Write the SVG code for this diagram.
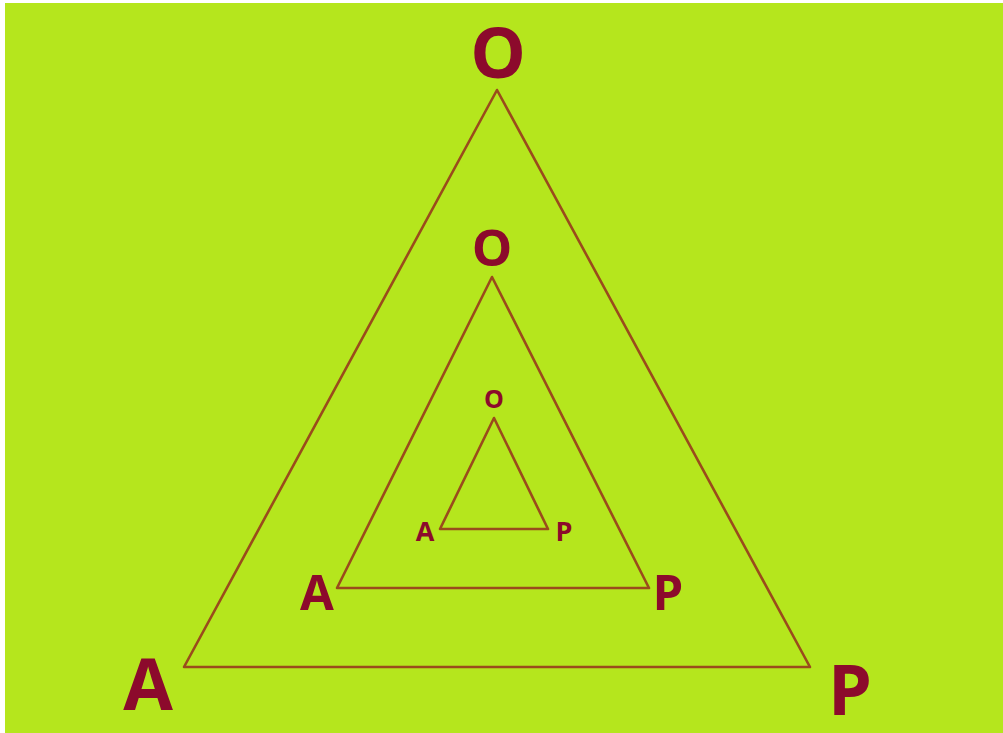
<svg xmlns="http://www.w3.org/2000/svg" width="1003" height="733" viewBox="0 0 1003 733">
<style>
.tri{fill:none;stroke:#9a4b1c;stroke-width:2.6;stroke-linejoin:round}
.lbl{font-family:"Open Sans","Noto Sans","DejaVu Sans",sans-serif;font-weight:700;fill:#8c0a2c;text-anchor:middle}
</style>
<rect x="0" y="0" width="1003" height="733" fill="#ffffff"/>
<rect x="5" y="3" width="998" height="730" fill="#b5e61d"/>
<g id="connectors">
<polygon class="tri" points="497,90 810,667 184,667"/>
<polygon class="tri" points="492,277 649,588 337,588"/>
<polygon class="tri" points="494,418 548,529 440,529"/>
</g>
<g id="outer-O"><text class="lbl" x="498" y="78" font-size="70">O</text></g>
<g id="outer-A"><text class="lbl" x="148" y="710" font-size="72">A</text></g>
<g id="outer-P"><text class="lbl" x="850" y="715" font-size="70">P</text></g>
<g id="middle-O"><text class="lbl" x="492" y="266" font-size="51">O</text></g>
<g id="middle-A"><text class="lbl" x="317" y="610" font-size="49">A</text></g>
<g id="middle-P"><text class="lbl" x="668" y="610" font-size="49">P</text></g>
<g id="inner-O"><text class="lbl" x="494" y="408" font-size="25">O</text></g>
<g id="inner-A"><text class="lbl" x="425" y="541" font-size="27">A</text></g>
<g id="inner-P"><text class="lbl" x="564" y="541" font-size="27">P</text></g>
</svg>
